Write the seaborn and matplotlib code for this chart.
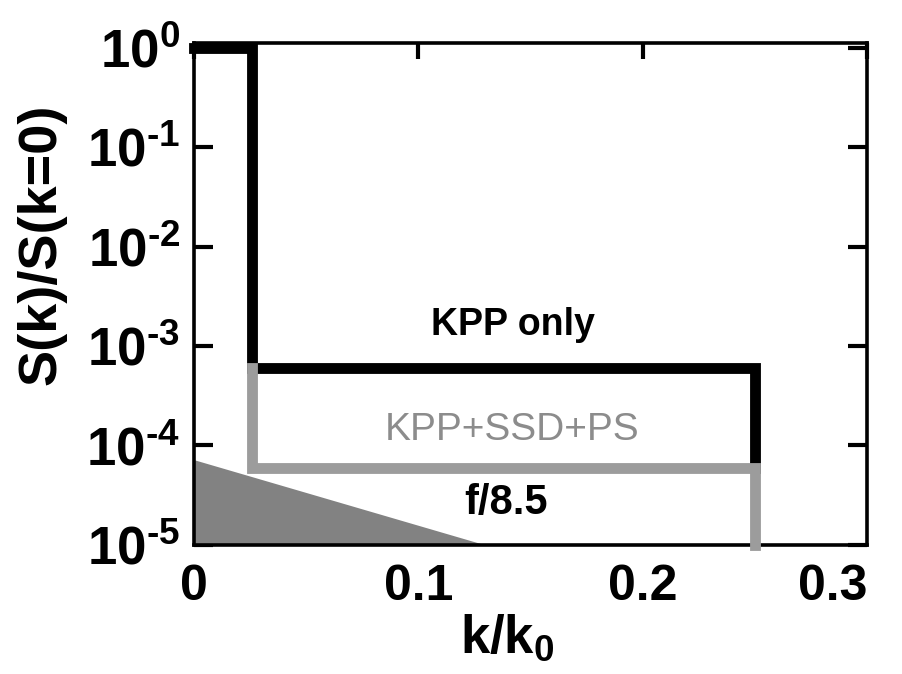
import matplotlib
matplotlib.use('Agg')
import matplotlib.pyplot as plt
import seaborn as sns
from matplotlib import font_manager as fm
from matplotlib.ticker import FixedLocator, FixedFormatter, NullLocator

# ---- data ----
kpp_x = [0.0, 0.026, 0.026, 0.25, 0.25]
kpp_y = [1.0, 1.0, 6e-4, 6e-4, 6e-5]
ssd_x = [0.026, 0.026, 0.25, 0.25]
ssd_y = [6e-4, 6e-5, 6e-5, 1e-5]
f_x = [0.0, 0.13]
f_y = [7.2e-5, 1e-5]
xticks = [0.0, 0.1, 0.2, 0.3]
xtick_labels = ['0', '0.1', '0.2', '0.3']
yticks = [1e-5, 1e-4, 1e-3, 1e-2, 1e-1, 1e0]
yexp = ['-5', '-4', '-3', '-2', '-1', '0']

sns.set_theme(style='ticks')
names = {f.name for f in fm.fontManager.ttflist}
narrow = 'Liberation Sans Narrow' if 'Liberation Sans Narrow' in names else 'Liberation Sans'
plt.rcParams['font.family'] = ['Liberation Sans', 'DejaVu Sans']
plt.rcParams['font.weight'] = 'bold'
plt.rcParams['mathtext.fontset'] = 'custom'
plt.rcParams['mathtext.bf'] = narrow + ':bold'
plt.rcParams['mathtext.rm'] = narrow + ':bold'
plt.rcParams['mathtext.default'] = 'bf'

ytick_labels = [r'$10^{\text{' + e + '}}$' for e in yexp]

fig = plt.figure(figsize=(9.03, 6.74), dpi=100)
ax = fig.add_axes([0.2148, 0.1914, 0.7453, 0.7448])
ax.set_yscale('log')

# filled f/8.5 region
ax.fill_between(f_x, f_y, 1e-5, color='#828282', lw=0, zorder=1)

sns.lineplot(x=kpp_x, y=kpp_y, sort=False, estimator=None, color='black',
             lw=7.8, ax=ax, solid_capstyle='projecting', solid_joinstyle='miter',
             clip_on=False, zorder=3)
sns.lineplot(x=ssd_x, y=ssd_y, sort=False, estimator=None, color='#9c9c9c',
             lw=7.8, ax=ax, solid_capstyle='projecting', solid_joinstyle='miter',
             clip_on=False, zorder=4)

ax.set_xlim(0, 0.3)
ax.set_ylim(1e-5, 1.11)

ax.xaxis.set_major_locator(FixedLocator(xticks))
ax.xaxis.set_major_formatter(FixedFormatter(xtick_labels))
ax.yaxis.set_major_locator(FixedLocator(yticks))
ax.yaxis.set_major_formatter(FixedFormatter(ytick_labels))
ax.yaxis.set_minor_locator(NullLocator())
ax.xaxis.set_minor_locator(NullLocator())

ax.tick_params(axis='y', which='major', direction='in', length=13.5, width=3,
               left=True, right=True, labelsize=38, pad=10, colors='black')
ax.tick_params(axis='x', which='major', direction='in', length=11.5, width=3,
               top=True, bottom=False, labelsize=36, pad=14, colors='black')
for lab in ax.get_xticklabels() + ax.get_yticklabels():
    lab.set_fontweight('bold')
    lab.set_family([narrow, 'Liberation Sans', 'DejaVu Sans'])

xl = ax.get_xticklabels()
xl[-1].set_horizontalalignment('right')

for s in ax.spines.values():
    s.set_linewidth(2.6)
    s.set_color('black')
    s.set_visible(True)

ax.set_xlabel(r'k/k$_{0}$', fontsize=38, fontweight='bold', color='black')
ax.set_ylabel('S(k)/S(k=0)', fontsize=39, fontweight='bold', color='black')
ax.yaxis.set_label_coords(-0.19, 0.60)
ax.xaxis.set_label_coords(0.465, -0.135)

ax.text(0.142, 1.3e-3, 'KPP only', ha='center', va='baseline', fontsize=27,
        fontweight='bold', color='black')
ax.text(0.1416, 1.13e-4, 'KPP+SSD+PS', ha='center', va='baseline', fontsize=28,
        fontweight='normal', color='#8c8c8c')
ax.text(0.139, 2.03e-5, 'f/8.5', ha='center', va='baseline', fontsize=30,
        fontweight='bold', color='black')

ax.set_facecolor('white')
fig.patch.set_facecolor('white')
fig.savefig('out.png', dpi=100)
